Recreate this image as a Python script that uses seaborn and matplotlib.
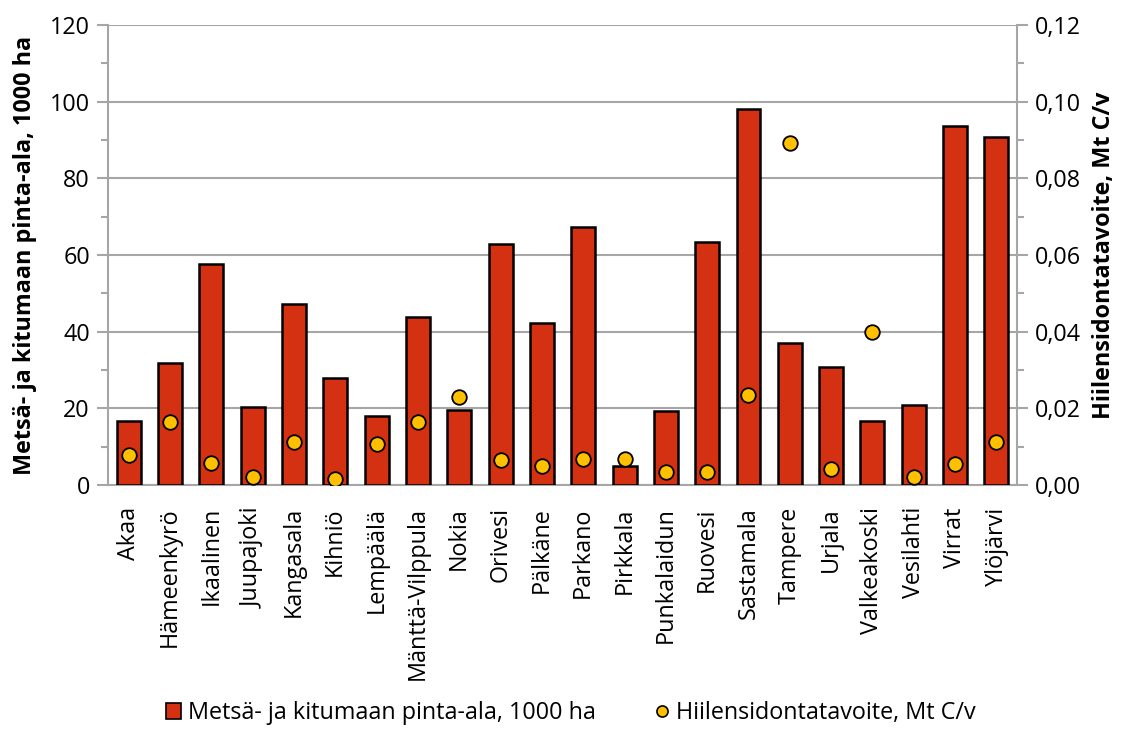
import matplotlib
matplotlib.use("Agg")
import matplotlib.pyplot as plt
from matplotlib.ticker import MultipleLocator, FuncFormatter
from matplotlib.lines import Line2D
from matplotlib.patches import Patch
import seaborn as sns
import pandas as pd
import numpy as np

municipalities = ["Akaa", "Hämeenkyrö", "Ikaalinen", "Juupajoki", "Kangasala", "Kihniö",
                  "Lempäälä", "Mänttä-Vilppula", "Nokia", "Orivesi", "Pälkäne", "Parkano",
                  "Pirkkala", "Punkalaidun", "Ruovesi", "Sastamala", "Tampere", "Urjala",
                  "Valkeakoski", "Vesilahti", "Virrat", "Ylöjärvi"]
forest_area = [16.7, 31.7, 57.7, 20.4, 47.1, 28.0, 17.9, 43.7, 19.5, 62.9, 42.2, 67.3,
               5.0, 19.4, 63.4, 98.0, 37.0, 30.7, 16.7, 21.0, 93.7, 90.8]
carbon_target = [0.0078, 0.0165, 0.0058, 0.0022, 0.0111, 0.0016, 0.0107, 0.0165, 0.0230,
                 0.0065, 0.0050, 0.0069, 0.0069, 0.0034, 0.0034, 0.0234, 0.0892, 0.0042,
                 0.0400, 0.0022, 0.0055, 0.0113]

bar_label = "Metsä- ja kitumaan pinta-ala, 1000 ha"
dot_label = "Hiilensidontatavoite, Mt C/v"

BAR_COLOR = "#D43112"
DOT_COLOR = "#FFC000"
GRID = "#A6A6A6"
FS = 16.8

sns.set_theme(style="white")
plt.rcParams["font.family"] = ["Open Sans", "DejaVu Sans"]
plt.rcParams.update({"text.color": "black", "axes.labelcolor": "black",
                     "xtick.labelcolor": "black", "ytick.labelcolor": "black"})

df = pd.DataFrame({"kunta": municipalities, "ala": forest_area,
                   "hiili": carbon_target, "pos": np.arange(len(municipalities))})

fig = plt.figure(figsize=(11.28, 7.31), dpi=100)
ax = fig.add_axes([0.0957, 0.3365, 0.806, 0.6293])

sns.barplot(data=df, x="kunta", y="ala", order=municipalities, color=BAR_COLOR,
            saturation=1, width=0.58, edgecolor="black", linewidth=1.8, ax=ax, zorder=3)

ax2 = ax.twinx()
sns.scatterplot(data=df, x="pos", y="hiili", color=DOT_COLOR, edgecolor="black",
                linewidth=1.3, s=110, ax=ax2, zorder=5, legend=False)

ax.set_xlim(-0.5, len(municipalities) - 0.5)
ax.set_ylim(0, 120)
ax2.set_ylim(0, 0.12)

ax.yaxis.set_major_locator(MultipleLocator(20))
ax.yaxis.set_minor_locator(MultipleLocator(10))
ax2.yaxis.set_major_locator(MultipleLocator(0.02))
ax2.yaxis.set_minor_locator(MultipleLocator(0.01))
ax2.yaxis.set_major_formatter(FuncFormatter(lambda v, p: f"{v:.2f}".replace(".", ",")))

ax.grid(axis="y", which="major", color=GRID, linewidth=1.5, zorder=0)
ax.set_axisbelow(True)
ax.grid(axis="x", visible=False)

for a in (ax, ax2):
    for s in a.spines.values():
        s.set_visible(False)
ax.spines["left"].set_visible(True)
ax.spines["bottom"].set_visible(True)
ax2.spines["right"].set_visible(True)
for s in (ax.spines["left"], ax.spines["bottom"], ax2.spines["right"]):
    s.set_color(GRID)
    s.set_linewidth(1.5)

ax.tick_params(axis="y", which="both", direction="out", color=GRID, width=1.5,
               labelsize=FS, labelcolor="black", pad=5, left=True)
ax.tick_params(axis="y", which="major", length=8)
ax.tick_params(axis="y", which="minor", length=5)
ax2.tick_params(axis="y", which="both", direction="out", color=GRID, width=1.5,
                labelsize=FS, labelcolor="black", pad=5, right=True)
ax2.tick_params(axis="y", which="major", length=8)
ax2.tick_params(axis="y", which="minor", length=5)
ax.tick_params(axis="x", bottom=False, labelsize=FS, labelcolor="black", pad=10)
plt.setp(ax.get_xticklabels(), rotation=90)

ax.set_xlabel("")
ax.set_ylabel(bar_label, fontsize=FS, fontweight="bold", color="black", labelpad=9)
ax2.set_ylabel(dot_label, fontsize=FS, fontweight="bold", color="black", labelpad=8)

handles = [
    Patch(facecolor=BAR_COLOR, edgecolor="black", linewidth=1.2, label=bar_label),
    Line2D([], [], marker="o", linestyle="none", markerfacecolor=DOT_COLOR,
           markeredgecolor="black", markeredgewidth=1.2, markersize=8, label=dot_label),
]
leg = fig.legend(handles=handles, loc="center", bbox_to_anchor=(0.506, 0.024), ncol=2,
                 frameon=False, fontsize=FS, handlelength=0.65, handleheight=0.65,
                 handletextpad=0.3, columnspacing=2.5, borderpad=0)
for t in leg.get_texts():
    t.set_color("black")

fig.savefig("out.png", dpi=100)
